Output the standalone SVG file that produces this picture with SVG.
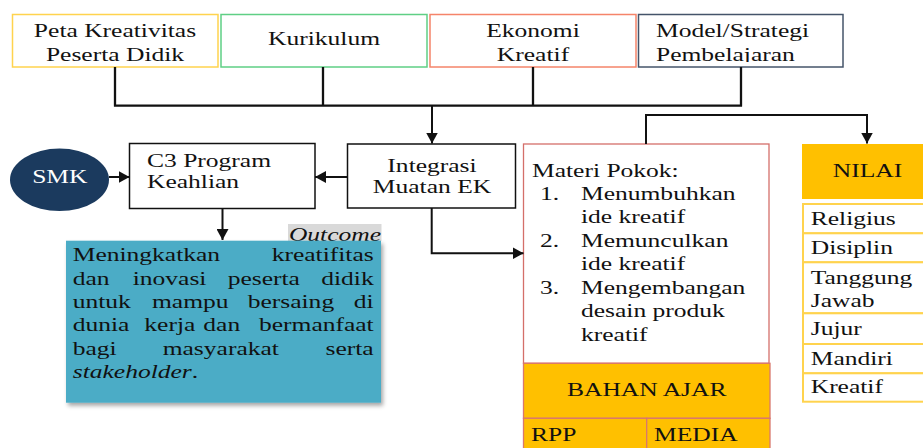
<svg xmlns="http://www.w3.org/2000/svg" width="923" height="448" viewBox="0 0 923 448">
<defs>
<style>
.t{font-family:"Liberation Serif",Tinos,"Times New Roman",Times,"DejaVu Serif","Noto Serif",serif;font-size:18.5px;fill:#111}
.c{text-anchor:middle}
.e{text-anchor:end}
.i{font-style:italic}
.w{fill:#fff}
.box{fill:#fff;stroke-width:1.5}
.blk{fill:#fff;stroke:#111;stroke-width:1.5}
.ln{fill:none;stroke:#111;stroke-width:2.3}
.ar{fill:none;stroke:#111;stroke-width:2;marker-end:url(#ah)}
.nv{fill:#fff;stroke:#ffd34e;stroke-width:2}
.gold{fill:#ffc000}
</style>
<marker id="ah" viewBox="0 0 10 10" refX="10" refY="5" markerWidth="11" markerHeight="12" markerUnits="userSpaceOnUse" orient="auto" preserveAspectRatio="none">
<path d="M0,0 L10,5 L0,10 z" fill="#111"/>
</marker>
<filter id="sh" x="-10%" y="-10%" width="125%" height="130%">
<feDropShadow dx="2" dy="3" stdDeviation="2" flood-color="#000" flood-opacity="0.35"/>
</filter>
<clipPath id="clipM"><rect x="638" y="14" width="206" height="48"/></clipPath>
</defs>

<g id="peta">
<rect class="box" x="12.5" y="14.5" width="205.5" height="52.5" stroke="#ffd34e"/>
<text class="t c" transform="matrix(1.38 0 0 1 115 37.3)"><tspan x="0">Peta Kreativitas</tspan><tspan x="0" dy="23.4">Peserta Didik</tspan></text>
</g>
<g id="kurikulum">
<rect class="box" x="221" y="14.5" width="206" height="52.5" stroke="#5fcf85"/>
<text class="t c" transform="matrix(1.38 0 0 1 324 45)">Kurikulum</text>
</g>
<g id="ekonomi">
<rect class="box" x="430" y="14.5" width="206" height="52.5" stroke="#f5846a"/>
<text class="t c" transform="matrix(1.38 0 0 1 533 37.3)"><tspan x="0">Ekonomi</tspan><tspan x="0" dy="23.4">Kreatif</tspan></text>
</g>
<g id="model">
<rect class="box" x="638.5" y="14.5" width="204.5" height="52.5" stroke="#44546a"/>
<g clip-path="url(#clipM)">
<text class="t" transform="matrix(1.38 0 0 1 656 37.3)"><tspan x="0">Model/Strategi</tspan><tspan x="0" dy="23.4">Pembelajaran</tspan></text>
</g>
</g>

<g id="smk">
<ellipse cx="59.5" cy="179.8" rx="49.5" ry="31.3" fill="#1b3a5e"/>
<text class="t c w" transform="matrix(1.38 0 0 1 59.8 183.4)">SMK</text>
</g>
<g id="c3">
<rect class="blk" x="129.5" y="143.5" width="185.5" height="65"/>
<text class="t" transform="matrix(1.38 0 0 1 147 166.5)"><tspan x="0">C3 Program</tspan><tspan x="0" dy="21.5">Keahlian</tspan></text>
</g>
<g id="integrasi">
<rect class="blk" x="347.5" y="144" width="168" height="64"/>
<text class="t c" transform="matrix(1.38 0 0 1 432 171.7)"><tspan x="0">Integrasi</tspan><tspan x="0" dy="21.6">Muatan EK</tspan></text>
</g>

<g id="outcome">
<rect x="288" y="224" width="93.5" height="17" fill="#d9d9d9"/>
<text class="t i e" transform="matrix(1.38 0 0 1 381 240.5)">Outcome</text>
<rect x="66" y="240.7" width="315" height="162" fill="#4bacc6" filter="url(#sh)"/>
<text class="t" transform="matrix(1.38 0 0 1 72.7 261)">Meningkatkan</text>
<text class="t e" transform="matrix(1.38 0 0 1 373.7 261)">kreatifitas</text>
<text class="t" transform="matrix(1.38 0 0 1 72.7 284.5)">dan</text>
<text class="t" transform="matrix(1.38 0 0 1 132.7 284.5)">inovasi</text>
<text class="t" transform="matrix(1.38 0 0 1 227.7 284.5)">peserta</text>
<text class="t e" transform="matrix(1.38 0 0 1 373.7 284.5)">didik</text>
<text class="t" transform="matrix(1.38 0 0 1 72.7 308)">untuk</text>
<text class="t" transform="matrix(1.38 0 0 1 152 308)">mampu</text>
<text class="t" transform="matrix(1.38 0 0 1 247.7 308)">bersaing</text>
<text class="t e" transform="matrix(1.38 0 0 1 373.7 308)">di</text>
<text class="t" transform="matrix(1.38 0 0 1 72.7 331.2)">dunia</text>
<text class="t" transform="matrix(1.38 0 0 1 144.3 331.2)">kerja</text>
<text class="t" transform="matrix(1.38 0 0 1 203.3 331.2)">dan</text>
<text class="t e" transform="matrix(1.38 0 0 1 373.7 331.2)">bermanfaat</text>
<text class="t" transform="matrix(1.38 0 0 1 72.7 354.5)">bagi</text>
<text class="t" transform="matrix(1.38 0 0 1 162.7 354.5)">masyarakat</text>
<text class="t e" transform="matrix(1.38 0 0 1 373.7 354.5)">serta</text>
<text class="t" transform="matrix(1.38 0 0 1 72.7 377.7)"><tspan class="i">stakeholder</tspan>.</text>
</g>

<g id="materi">
<rect x="523.5" y="144" width="245.5" height="219.3" fill="#fff" stroke="#d46f6a" stroke-width="1.3"/>
<text class="t" transform="matrix(1.38 0 0 1 532 176.5)">Materi Pokok:</text>
<text class="t" transform="matrix(1.38 0 0 1 540 200)"><tspan x="0">1.</tspan><tspan x="0" y="47">2.</tspan><tspan x="0" y="94">3.</tspan></text>
<text class="t" transform="matrix(1.38 0 0 1 581 200)"><tspan x="0">Menumbuhkan</tspan><tspan x="0" dy="23.5">ide kreatif</tspan><tspan x="0" dy="23.5">Memunculkan</tspan><tspan x="0" dy="23.5">ide kreatif</tspan><tspan x="0" dy="23.5">Mengembangan</tspan><tspan x="0" dy="23.5">desain produk</tspan><tspan x="0" dy="23.5">kreatif</tspan></text>
</g>
<g id="bahan-ajar">
<rect class="gold" x="523.5" y="363.3" width="246.5" height="55" stroke="#d9786e" stroke-width="1.3"/>
<text class="t c" transform="matrix(1.38 0 0 1 646.7 395.7)">BAHAN AJAR</text>
</g>
<g id="rpp">
<rect class="gold" x="523.5" y="418.3" width="123.2" height="40" stroke="#d9786e" stroke-width="1.3"/>
<text class="t" transform="matrix(1.38 0 0 1 531 441)">RPP</text>
</g>
<g id="media">
<rect class="gold" x="646.7" y="418.3" width="123.3" height="40" stroke="#d9786e" stroke-width="1.3"/>
<text class="t" transform="matrix(1.38 0 0 1 654 441)">MEDIA</text>
</g>

<g id="nilai">
<rect class="gold" x="802" y="144" width="140" height="55"/>
<text class="t c" transform="matrix(1.38 0 0 1 867.5 176.7)">NILAI</text>
</g>
<g id="nilai-list">
<rect class="nv" x="803" y="204" width="140" height="29.3"/>
<rect class="nv" x="803" y="233.3" width="140" height="29"/>
<rect class="nv" x="803" y="262.3" width="140" height="51"/>
<rect class="nv" x="803" y="313.3" width="140" height="30.7"/>
<rect class="nv" x="803" y="344" width="140" height="29.3"/>
<rect class="nv" x="803" y="373.3" width="140" height="28.4"/>
<text class="t" transform="matrix(1.38 0 0 1 810.7 225)">Religius</text>
<text class="t" transform="matrix(1.38 0 0 1 810.7 254)">Disiplin</text>
<text class="t" transform="matrix(1.38 0 0 1 810.7 284)"><tspan x="0">Tanggung</tspan><tspan x="0" dy="22.7">Jawab</tspan></text>
<text class="t" transform="matrix(1.38 0 0 1 810.7 335)">Jujur</text>
<text class="t" transform="matrix(1.38 0 0 1 810.7 365)">Mandiri</text>
<text class="t" transform="matrix(1.38 0 0 1 810.7 393.3)">Kreatif</text>
</g>

<g id="connectors">
<path class="ln" d="M115,67 V105.7 M323,67 V105.7 M533,67 V105.7 M741,67 V105.7 M113.9,105.7 H742.1"/>
<path class="ar" stroke-width="2.3" d="M432,105.7 V143.5"/>
<path class="ar" stroke-width="2.3" d="M646,144 V115 H867 V143.5"/>
<path class="ar" d="M109,177 H129.5"/>
<path class="ar" d="M347.5,177 H315"/>
<path class="ar" d="M222.5,208.5 V240"/>
<path class="ar" d="M431.7,208 V253.3 H523.5"/>
</g>
</svg>
